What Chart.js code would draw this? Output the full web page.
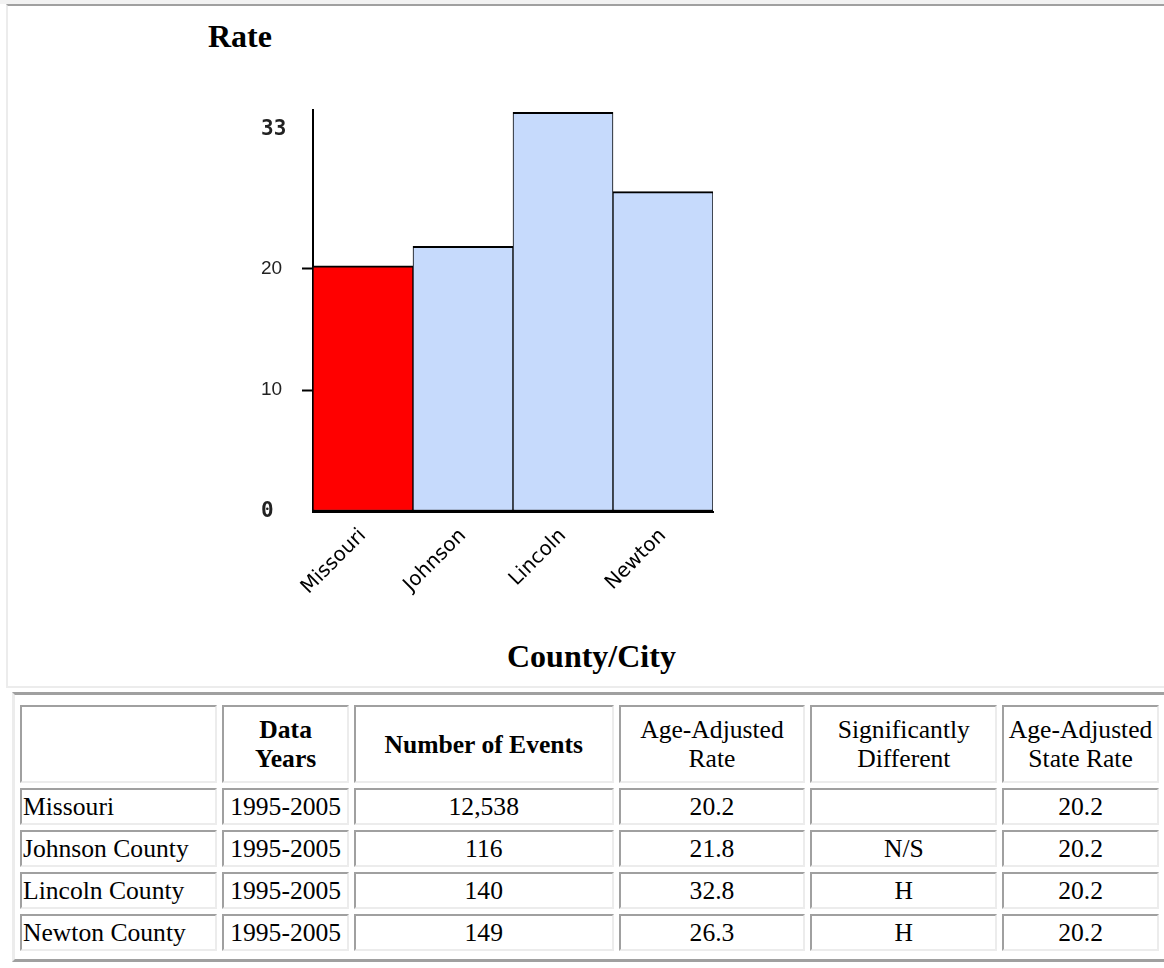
<!DOCTYPE html>
<html>
<head>
<meta charset="utf-8">
<script src="https://cdn.jsdelivr.net/npm/chart.js@4/dist/chart.umd.min.js"></script>
<style>
  body { margin: 0; background: #fff; font-family: "Liberation Serif", "Times New Roman", serif; }
  .strip { position: absolute; left: 0; top: 0; width: 1164px; height: 4px; background: #f2f2f2; }
  .panel {
    position: absolute; left: 6px; top: 4px; width: 1156px; height: 680px;
    border-top: 2px solid #a0a0a0; border-left: 2px solid #ececec; border-bottom: 2px solid #ececec;
    background: #fff;
  }
  .title { position: absolute; font-weight: bold; font-size: 32px; line-height: 32px; color: #000; white-space: nowrap; }
  #chartBox { position: absolute; left: 200px; top: 90px; width: 560px; height: 540px; }
  table.data {
    position: absolute; left: 12px; top: 692px;
    border-collapse: separate; border-spacing: 5px;
    border-top: 3px solid #a0a0a0; border-bottom: 3px solid #a0a0a0;
    border-left: 3px solid #ececec; border-right: 0;
    padding: 5px 0 3px 0; font-size: 25.6px;
  }
  table.data td {
    box-sizing: border-box; height: 37px; padding: 0 1px;
    border-style: solid; border-width: 2px;
    border-color: #a0a0a0 #ececec #ececec #a0a0a0;
    text-align: center; line-height: 29px; white-space: nowrap;
  }
  table.data tr.head td { height: 78px; }
  table.data td.name { text-align: left; }
  table.data td.b { font-weight: bold; }
</style>
</head>
<body>
<div class="strip"></div>
<div class="panel"></div>
<div class="title" style="left:208px; top:20px;">Rate</div>
<div id="chartBox"><canvas id="chart" width="560" height="540"></canvas></div>
<div class="title" style="left:507px; top:640px;">County/City</div>
<table class="data" id="tbl"></table>

<script>
// chart data
const categories = ['Missouri', 'Johnson', 'Lincoln', 'Newton'];
const rates = [20.2, 21.8, 32.8, 26.3];
const barColors = ['#ff0000', '#c6dafc', '#c6dafc', '#c6dafc'];
const yTicks = [0, 10, 20, 33];

// table data
const headers = ['', 'Data<br>Years', 'Number of Events', 'Age-Adjusted<br>Rate', 'Significantly<br>Different', 'Age-Adjusted<br>State Rate'];
const boldHeaders = [false, true, true, false, false, false];
const colWidths = [198, 127, 261, 188, 188, 157];
const places = ['Missouri', 'Johnson County', 'Lincoln County', 'Newton County'];
const dataYears = ['1995-2005', '1995-2005', '1995-2005', '1995-2005'];
const events = ['12,538', '116', '140', '149'];
const adjRates = ['20.2', '21.8', '32.8', '26.3'];
const sigDiff = ['', 'N/S', 'H', 'H'];
const stateRates = ['20.2', '20.2', '20.2', '20.2'];

// build table
const tbl = document.getElementById('tbl');
const head = tbl.insertRow();
head.className = 'head';
headers.forEach((h, i) => {
  const c = head.insertCell();
  c.innerHTML = h;
  c.style.width = colWidths[i] + 'px';
  if (boldHeaders[i]) c.className = 'b';
});
places.forEach((p, r) => {
  const row = tbl.insertRow();
  [p, dataYears[r], events[r], adjRates[r], sigDiff[r], stateRates[r]].forEach((v, i) => {
    const c = row.insertCell();
    c.textContent = v;
    if (i === 0) c.className = 'name';
  });
});

const isEnd = v => v === yTicks[0] || v === yTicks[yTicks.length - 1];

new Chart(document.getElementById('chart'), {
  type: 'bar',
  data: {
    labels: categories,
    datasets: [{
      data: rates,
      backgroundColor: barColors,
      borderColor: '#000',
      borderWidth: { top: 2, bottom: 2, left: 1, right: 1 },
      borderSkipped: false,
      barPercentage: 1,
      categoryPercentage: 1
    }]
  },
  options: {
    responsive: false,
    devicePixelRatio: 1,
    animation: false,
    layout: { padding: { left: 61, top: 20, right: 47, bottom: 0 } },
    plugins: { legend: { display: false }, tooltip: { enabled: false } },
    scales: {
      x: {
        grid: { display: false, drawTicks: false },
        border: { display: true, color: '#000', width: 2 },
        ticks: {
          minRotation: 45,
          maxRotation: 45,
          padding: 12,
          color: '#000',
          font: { family: 'DejaVu Sans', size: 20 }
        },
        afterFit: scale => {
          scale.height = 118;
          scale.paddingLeft = 0;
          scale.paddingRight = 0;
        }
      },
      y: {
        min: 0,
        max: 33,
        afterBuildTicks: scale => { scale.ticks = yTicks.map(v => ({ value: v })); },
        afterFit: scale => {
          scale.width = 52;
          scale.paddingTop = 0;
          scale.paddingBottom = 0;
        },
        grid: {
          drawOnChartArea: false,
          tickLength: 11,
          tickWidth: 2,
          tickColor: ctx => isEnd(ctx.tick && ctx.tick.value) ? 'rgba(0,0,0,0)' : '#000'
        },
        border: { display: true, color: '#000', width: 2 },
        ticks: {
          crossAlign: 'far',
          color: '#222',
          callback: v => v === yTicks[yTicks.length - 1] ? ['', '', String(v)] : String(v),
          font: ctx => isEnd(ctx.tick && ctx.tick.value)
            ? { family: 'DejaVu Sans Mono', size: 21, weight: 'bold', lineHeight: '20px' }
            : { family: 'Liberation Sans', size: 19 }
        }
      }
    }
  }
});
</script>
</body>
</html>
